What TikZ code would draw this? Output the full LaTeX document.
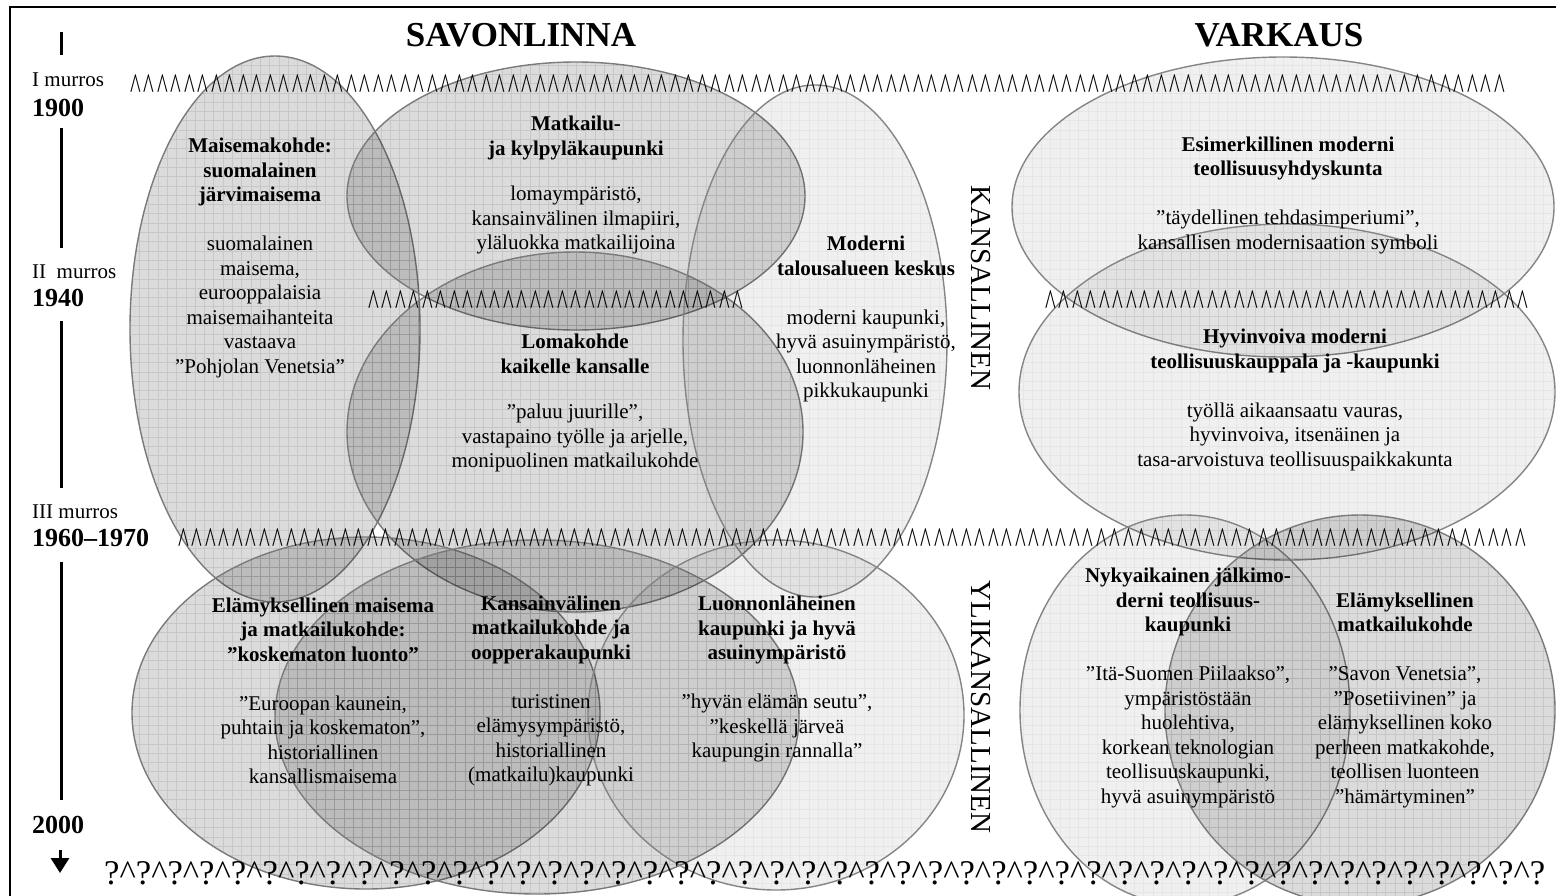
\documentclass[tikz,border=0pt]{standalone}
\usepackage{fontspec}
\setmainfont{Liberation Serif}
\newfontfamily\caretfont[FakeStretch=0.6]{Liberation Serif}
\usetikzlibrary{arrows.meta}
\newcommand\caretrow[1]{\foreach \k in {1,...,#1}{\textasciicircum\kern2.81pt}}
\newcommand\qmrow[1]{?\foreach \k in {1,...,#1}{\textasciicircum?}}
% #1 style, #2 cx, #3 cy, #4 rx, #5 ry
\newcommand\gridell[5]{%
  \begin{scope}
    \clip (#2,#3) ellipse [x radius=#4pt, y radius=#5pt];
    \draw[#1grid] (#2-#4-10,#3-#5-10) grid (#2+#4+10,#3+#5+10);
  \end{scope}
  \draw[#1] (#2,#3) ellipse [x radius=#4pt, y radius=#5pt];}
\begin{document}
\begin{tikzpicture}[x=1pt,y=-1pt,
  mid/.style={draw=black!52, line width=1.4pt, fill=black, fill opacity=0.14},
  lite/.style={draw=black!48, line width=1.4pt, fill=black, fill opacity=0.06},
  midgrid/.style={black, line width=0.9pt, draw opacity=0.09, step=9.3pt},
  litegrid/.style={black, line width=0.9pt, draw opacity=0.045, step=9.3pt},
  txt/.style={align=center, inner sep=0pt, font=\fontsize{21}{24.5}\selectfont},
  lab/.style={anchor=west, inner sep=0pt, font=\fontsize{21}{24}\selectfont},
  yr/.style={anchor=west, inner sep=0pt, font=\fontsize{26}{28}\selectfont\bfseries},
  ttl/.style={inner sep=0pt, font=\fontsize{35}{37}\selectfont\bfseries},
  vert/.style={rotate=-90, inner sep=0pt, font=\fontsize{29}{30}\selectfont},
  crow/.style={anchor=base west, inner sep=0pt, font={\caretfont\fontsize{38}{40}\selectfont}},
  qrow/.style={anchor=base west, inner sep=0pt, font=\fontsize{34.7}{36}\selectfont},
  tline/.style={line width=3pt}]
\useasboundingbox (0,0) rectangle (1556,895);
\draw[line width=2pt] (10,900) -- (10,7) -- (1560,7);

% ellipses
\gridell{mid}{275}{329}{145}{273}
\gridell{mid}{576}{196}{229}{134}
\gridell{mid}{575}{432}{228}{180}
\gridell{lite}{815}{341}{132}{256}
\gridell{mid}{366}{713}{234}{176}
\gridell{mid}{537}{717}{262}{177}
\gridell{lite}{776}{715}{188}{175}
\gridell{lite}{1283}{207}{271}{150}
\gridell{lite}{1287}{392}{268}{168}
\gridell{lite}{1185}{710}{165}{195}
\gridell{mid}{1360}{710}{195}{195}

% titles
\node[ttl] (sav) at (521,35) {SAVONLINNA};
\node[ttl] (var) at (1279,35) {VARKAUS};
\node[vert] (kans) at (981,288) {KANSALLINEN};
\node[vert] (ylik) at (981,707) {YLIKANSALLINEN};

% timeline
\node[lab] (m1) at (32,80) {I murros};
\node[yr] (y1) at (32,108) {1900};
\node[lab] (m2) at (32,272) {II\ \ murros};
\node[yr] (y2) at (32,298) {1940};
\node[lab] (m3) at (32,512) {III murros};
\node[yr] (y3) at (32,538) {1960--1970};
\node[yr] (y4) at (32,825) {2000};
\coordinate (s0a) at (61,32); \coordinate (s0b) at (61,55);
\coordinate (s1a) at (61,128); \coordinate (s1b) at (61,248);
\coordinate (s2a) at (61,321); \coordinate (s2b) at (61,488);
\coordinate (s3a) at (61,562); \coordinate (s3b) at (61,800);
\coordinate (arA) at (60,850); \coordinate (arB) at (60,873);
\draw[tline] (s0a) -- (s0b);
\draw[tline] (s1a) -- (s1b);
\draw[tline] (s2a) -- (s2b);
\draw[tline] (s3a) -- (s3b);
\draw[tline, -{Triangle[width=18pt,length=15pt]}] (arA) -- (arB);

% caret rows
\node[crow] (r1) at (130,99.5) {\caretrow{102}};
\node[crow] (r2a) at (368,315) {\caretrow{28}};
\node[crow] (r2b) at (1045,315) {\caretrow{36}};
\node[crow] (r3) at (178,553) {\caretrow{100}};
\node[qrow] (r4) at (104,884) {\qmrow{45}};

% texts
\node[txt] (tA) at (260,258) {\textbf{Maisemakohde:}\\\textbf{suomalainen}\\\textbf{järvimaisema}\\[24.5pt]suomalainen\\maisema,\\eurooppalaisia\\maisemaihanteita\\vastaava\\”Pohjolan Venetsia”};
\node[txt] (tB) at (576,185) {\textbf{Matkailu-}\\\textbf{ja kylpyläkaupunki}\\[21pt]lomaympäristö,\\kansainvälinen ilmapiiri,\\yläluokka matkailijoina};
\node[txt] (tC) at (575,403) {\textbf{Lomakohde}\\\textbf{kaikelle kansalle}\\[21pt]”paluu juurille”,\\vastapaino työlle ja arjelle,\\monipuolinen matkailukohde};
\node[txt] (tD) at (866,319) {\textbf{Moderni}\\\textbf{talousalueen keskus}\\[24.5pt]moderni kaupunki,\\hyvä asuinympäristö,\\luonnonläheinen\\pikkukaupunki};
\node[txt] (tE) at (323,691) {\textbf{Elämyksellinen maisema}\\\textbf{ja matkailukohde:}\\\textbf{”koskematon luonto”}\\[24.5pt]”Euroopan kaunein,\\puhtain ja koskematon”,\\historiallinen\\kansallismaisema};
\node[txt] (tF) at (551,691) {\textbf{Kansainvälinen}\\\textbf{matkailukohde ja}\\\textbf{oopperakaupunki}\\[24.5pt]turistinen\\elämysympäristö,\\historiallinen\\(matkailu)kaupunki};
\node[txt] (tG) at (777,679) {\textbf{Luonnonläheinen}\\\textbf{kaupunki ja hyvä}\\\textbf{asuinympäristö}\\[24.5pt]”hyvän elämän seutu”,\\”keskellä järveä\\kaupungin rannalla”};
\node[txt] (tH) at (1288,195) {\textbf{Esimerkillinen moderni}\\\textbf{teollisuusyhdyskunta}\\[24.5pt]”täydellinen tehdasimperiumi”,\\kansallisen modernisaation symboli};
\node[txt] (tI) at (1295,400) {\textbf{Hyvinvoiva moderni}\\\textbf{teollisuuskauppala ja -kaupunki}\\[24.5pt]työllä aikaansaatu vauras,\\hyvinvoiva, itsenäinen ja\\tasa-arvoistuva teollisuuspaikkakunta};
\node[txt] (tJ) at (1188,688) {\textbf{Nykyaikainen jälkimo-}\\\textbf{derni teollisuus-}\\\textbf{kaupunki}\\[24.5pt]”Itä-Suomen Piilaakso”,\\ympäristöstään\\huolehtiva,\\korkean teknologian\\teollisuuskaupunki,\\hyvä asuinympäristö};
\node[txt] (tK) at (1405,700) {\textbf{Elämyksellinen}\\\textbf{matkailukohde}\\[24.5pt]”Savon Venetsia”,\\”Posetiivinen” ja\\elämyksellinen koko\\perheen matkakohde,\\teollisen luonteen\\”hämärtyminen”};
\end{tikzpicture}
\end{document}
